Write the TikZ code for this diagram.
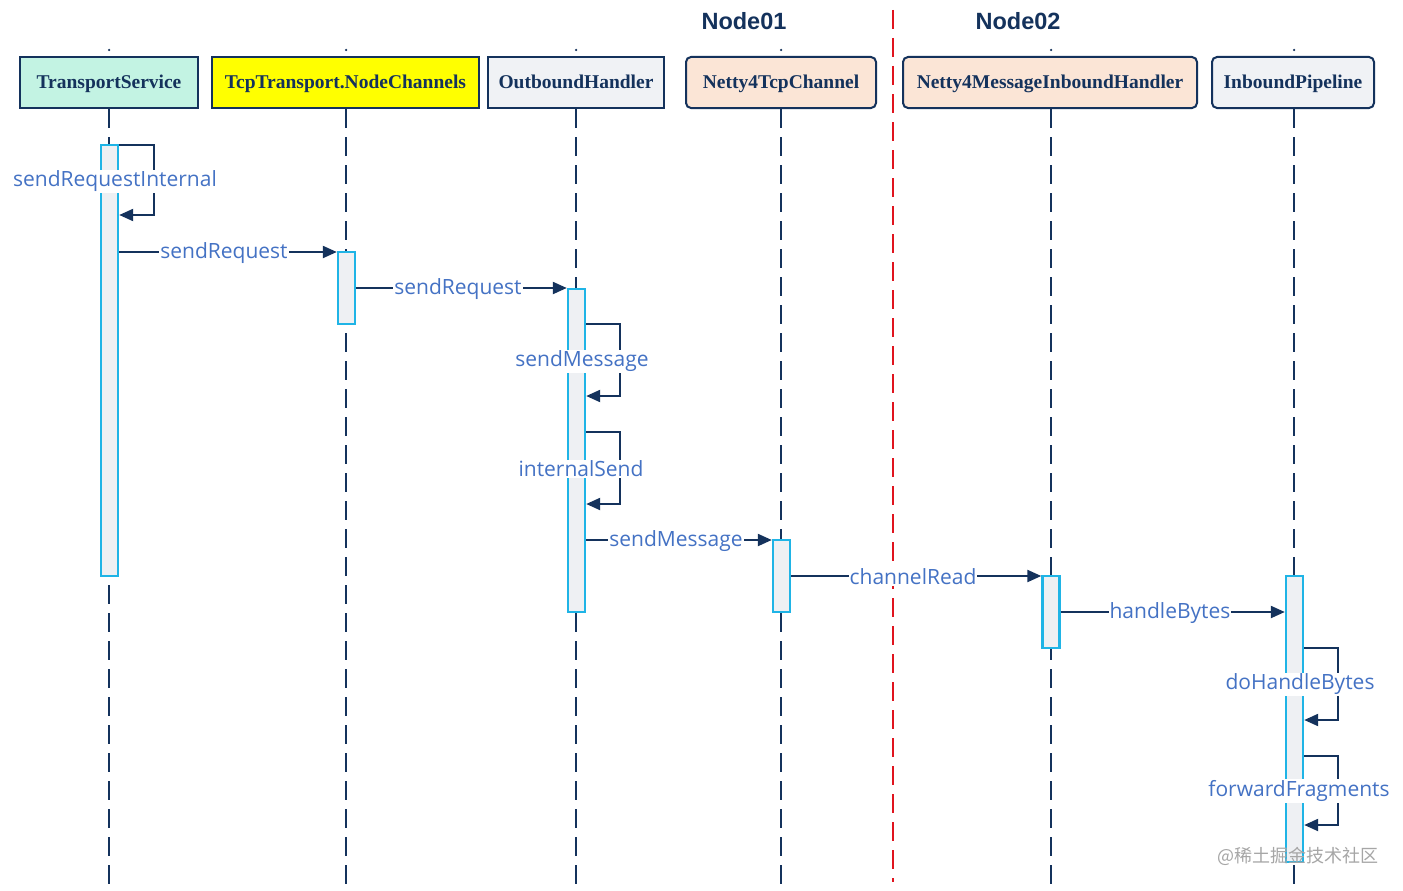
\documentclass[tikz,border=0pt]{standalone}
\usepackage{fontspec}
\usetikzlibrary{arrows.meta}
\newfontfamily\hdrfont{Liberation Serif}
\newfontfamily\lblfont{Open Sans}
\newfontfamily\nodefont{Liberation Sans}
\newfontfamily\cjkfont{Noto Sans CJK SC}
\definecolor{navy}{HTML}{14325C}
\definecolor{lblblue}{HTML}{4472C4}
\definecolor{cyanb}{HTML}{1FB4E6}
\definecolor{actfill}{HTML}{EEF0F3}
\definecolor{mint}{HTML}{C3F3E3}
\definecolor{yel}{HTML}{FFFF00}
\definecolor{peach}{HTML}{FBE5D6}
\definecolor{lgrey}{HTML}{F0F2F5}
\definecolor{redl}{HTML}{E0141E}
\tikzset{
  hdr/.style={draw=navy, line width=2pt, minimum height=51pt, inner sep=0pt, text=navy,
    text depth=1pt, font=\hdrfont\bfseries\fontsize{19.5}{21}\selectfont},
  life/.style={draw=navy, line width=2pt, dash pattern=on 19pt off 9pt},
  act/.style={draw=cyanb, fill=actfill, line width=2.4pt, minimum width=17pt, inner sep=0pt},
  msg/.style={draw=navy, line width=2.2pt, -{Triangle[length=14pt,width=12pt]}},
  lbl/.style={fill=white, inner sep=1pt, text=lblblue, font=\lblfont\fontsize{21}{23}\selectfont},
  nodelbl/.style={text=navy, font=\nodefont\bfseries\fontsize{23.5}{26}\selectfont},
  dotm/.style={fill=navy, circle, inner sep=0pt, minimum size=2.5pt},
}
\begin{document}
\begin{tikzpicture}[x=1pt,y=-1pt]
\useasboundingbox[fill=white] (0,0) rectangle (1403,891);
% headers
\node[hdr, fill=mint, minimum width=178pt] (h1) at (109,82.5) {TransportService};
\node[hdr, fill=yel, minimum width=267pt] (h2) at (345.5,82.5) {TcpTransport.NodeChannels};
\node[hdr, fill=lgrey, minimum width=176pt] (h3) at (576,82.5) {OutboundHandler};
\node[hdr, fill=peach, rounded corners=5pt, minimum width=190pt] (h4) at (781,82.5) {Netty4TcpChannel};
\node[hdr, fill=peach, rounded corners=5pt, minimum width=294pt] (h5) at (1050,82.5) {Netty4MessageInboundHandler};
\node[hdr, fill=lgrey, rounded corners=5pt, minimum width=162pt] (h6) at (1293,82.5) {InboundPipeline};
% small dots above headers
\foreach \n/\x in {d1/109,d2/346,d3/576,d4/781,d5/1051,d6/1294}{
  \node[dotm] (\n) at (\x,50) {};
}
% Node labels and separator
\node[nodelbl] (n1) at (744,21) {Node01};
\node[nodelbl] (n2) at (1018,21) {Node02};
\coordinate (rt) at (893,10);
\coordinate (rb) at (893,882);
\draw[draw=redl, line width=2pt, dash pattern=on 19pt off 9pt] (rt) -- (rb);
% lifelines
\foreach \h/\x in {h1/109,h2/346,h3/576,h4/781,h5/1051,h6/1294}{
  \draw[life] (\x,109) -- (\x,888);
}
% activations
\node[act, minimum height=431pt] (a1) at (109.5,360.5) {};
\node[act, minimum height=72pt] (a2) at (346.5,288) {};
\node[act, minimum height=323pt] (a3) at (576.5,450.5) {};
\node[act, minimum height=72pt] (a4) at (781.5,576) {};
\node[act, minimum height=72pt] (a5) at (1051,612) {};
\node[act, minimum height=286pt] (a6) at (1294.5,719) {};
% self calls
\draw[msg] (a1.east |- 0,145) -- (154,145) -- (154,215) -- (a1.east |- 0,215);
\node[lbl] (l1) at (115,181) {sendRequestInternal};
\draw[msg] (a3.east |- 0,324) -- (620,324) -- (620,396) -- (a3.east |- 0,396);
\node[lbl] (l3) at (582,361) {sendMessage};
\draw[msg] (a3.east |- 0,432) -- (620,432) -- (620,504) -- (a3.east |- 0,504);
\node[lbl] (l4) at (581,469) {internalSend};
\draw[msg] (a6.east |- 0,648) -- (1338,648) -- (1338,720) -- (a6.east |- 0,720);
\node[lbl] (l7) at (1300,684) {doHandleBytes};
\draw[msg] (a6.east |- 0,756) -- (1338,756) -- (1338,825) -- (a6.east |- 0,825);
\node[lbl] (l8) at (1299,791) {forwardFragments};
% messages
\draw[msg] (a1.east |- 0,252) -- (a2.west |- 0,252);
\node[lbl] (l2) at (224,253) {sendRequest};
\draw[msg] (a2.east |- 0,288) -- (a3.west |- 0,288);
\node[lbl] (l2b) at (458,289) {sendRequest};
\draw[msg] (a3.east |- 0,540) -- (a4.west |- 0,540);
\node[lbl] (l5) at (676,541) {sendMessage};
\draw[msg] (a4.east |- 0,576) -- (a5.west |- 0,576);
\node[lbl] (l6) at (913,577) {channelRead};
\draw[msg] (a5.east |- 0,612) -- (a6.west |- 0,612);
\node[lbl] (l9) at (1170,613) {handleBytes};
% watermark
\node[text=black!35, font=\cjkfont\fontsize{18}{20}\selectfont] (wm) at (1298,856) {@稀土掘金技术社区};
\end{tikzpicture}
\end{document}
